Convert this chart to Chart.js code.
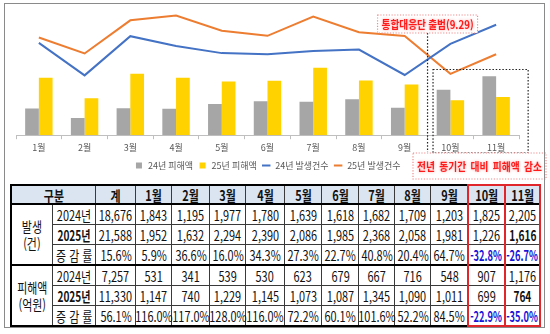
<!DOCTYPE html>
<html lang="ko">
<head>
<meta charset="utf-8">
<script src="https://cdn.jsdelivr.net/npm/chart.js@4/dist/chart.umd.min.js"></script>
<style>
  html, body { margin: 0; padding: 0; background: #fff; }
  #wrap { position: relative; width: 550px; height: 334px; overflow: hidden; background: #fff; }
  #c { position: absolute; left: 0; top: 0; }
  #frame { position: absolute; left: 4px; top: 3px; width: 539px; height: 323px; border: 1.5px solid #8a8a8a; pointer-events: none; }
  #tbl { position: absolute; left: 10px; top: 184px; width: 530px; border-collapse: collapse; table-layout: fixed;
         border: 2px solid #000; font-family: "Noto Sans CJK KR", "Noto Sans", sans-serif; font-size: 14px; color: #111; }
  #tbl td, #tbl th { border: 1px solid #3a3a3a; padding: 0; text-align: center; white-space: nowrap; overflow: visible; line-height: 16px; }
  #tbl th { background: #dbe5f1; font-weight: bold; border-bottom: 2px solid #000; height: 17px; }
  #tbl tr.r td { height: 19px; }
  #tbl tr.sep td { border-top: 2px solid #000; }
  #tbl .c { display: flex; justify-content: center; }
  #tbl .s { display: inline-block; transform: scaleX(0.78); transform-origin: center; white-space: nowrap; }
  #tbl .b { font-weight: bold; }
  #tbl .b .s { transform: scaleX(0.72); }
  #tbl .neg { color: #1414d8; font-weight: bold; }
  #tbl .neg .s { transform: scaleX(0.66); }
  #tbl .grp { line-height: 17px; }
  #redbox { position: absolute; border: 2px solid #e0262b; pointer-events: none; box-sizing: border-box; }
  #redmid { position: absolute; width: 2px; background: #e0262b; pointer-events: none; }
</style>
</head>
<body>
<div id="wrap">
  <canvas id="c" width="550" height="182"></canvas>
  <table id="tbl"></table>
  <div id="redbox"></div>
  <div id="redmid"></div>
  <div id="frame"></div>
</div>
<script>
// Monthly figures, January to November
const months = ['1월', '2월', '3월', '4월', '5월', '6월', '7월', '8월', '9월', '10월', '11월'];
const damage2024 = [531, 341, 539, 530, 623, 679, 667, 716, 548, 907, 1176];     // 피해액(억원)
const damage2025 = [1147, 740, 1229, 1145, 1073, 1087, 1345, 1090, 1011, 699, 764];
const cases2024 = [1843, 1195, 1977, 1780, 1639, 1618, 1682, 1709, 1203, 1825, 2205]; // 발생건수
const cases2025 = [1952, 1632, 2294, 2390, 2086, 1985, 2368, 2058, 1981, 1226, 1616];

// Table totals and change rates (%), first entry is the total column
const caseTotals = [18676, 21588];
const damageTotals = [7257, 11330];
const caseRates = [15.6, 5.9, 36.6, 16.0, 34.3, 27.3, 22.7, 40.8, 20.4, 64.7, -32.8, -26.7];
const damageRates = [56.1, 116.0, 117.0, 128.0, 116.0, 72.2, 60.1, 101.6, 52.2, 84.5, -22.9, -35.0];

const seriesNames = ['24년 피해액', '25년 피해액', '24년 발생건수', '25년 발생건수'];
const headerLabels = ['구분', '계'];

const FONT = '"Noto Sans CJK KR", "Noto Sans", sans-serif';

// ---------- chart ----------
function fitText(ctx, text, cx, cy, width) {
  const w = ctx.measureText(text).width;
  ctx.save();
  ctx.translate(cx, cy);
  ctx.scale(width / w, 1);
  ctx.fillText(text, 0, 0);
  ctx.restore();
}

const callouts = {
  id: 'callouts',
  afterDraw(chart) {
    const ctx = chart.ctx;
    const xs = chart.scales.x;
    const p9 = xs.getPixelForValue(8), p10 = xs.getPixelForValue(9), p11 = xs.getPixelForValue(10);
    const step = p10 - p9;
    const launchX = (p9 + p10) / 2;

    ctx.save();
    // launch marker between Sep and Oct
    ctx.strokeStyle = '#222';
    ctx.lineWidth = 1.2;
    ctx.setLineDash([1.5, 1.8]);
    ctx.beginPath();
    ctx.moveTo(launchX, 33);
    ctx.lineTo(launchX, 152);
    ctx.stroke();

    // dotted frame round Oct / Nov
    const rl = p10 - step * 0.38, rr = p11 + step * 0.7;
    ctx.strokeRect(rl, 69.5, rr - rl, 83.5);

    // top note
    ctx.setLineDash([1.2, 1.6]);
    ctx.strokeStyle = '#f08c8c';
    ctx.fillStyle = '#fff';
    ctx.fillRect(launchX - 50, 15, 100, 18);
    ctx.strokeRect(launchX - 50, 15, 100, 18);
    ctx.fillStyle = '#ff1a1a';
    ctx.shadowColor = 'rgba(255,120,120,0.7)';
    ctx.shadowBlur = 3;
    ctx.font = 'bold 11px ' + FONT;
    ctx.textAlign = 'center';
    ctx.textBaseline = 'middle';
    fitText(ctx, '통합대응단 출범(9.29)', launchX, 24.5, 92);

    // bottom note
    ctx.shadowBlur = 0;
    ctx.fillStyle = '#fff';
    ctx.fillRect(413, 153, 133, 26);
    ctx.strokeRect(413, 153, 133, 26);
    ctx.fillStyle = '#ff1a1a';
    ctx.shadowColor = 'rgba(255,120,120,0.7)';
    ctx.shadowBlur = 3;
    ctx.font = 'bold 11px ' + FONT;
    fitText(ctx, '전년  동기간  대비  피해액  감소', 479.5, 166.5, 125);
    ctx.restore();
  }
};

new Chart(document.getElementById('c'), {
  type: 'bar',
  data: {
    labels: months,
    datasets: [
      { type: 'bar', label: seriesNames[0], data: damage2024, backgroundColor: '#a6a6a6', order: 2,
        categoryPercentage: 0.6, barPercentage: 1.0, pointStyle: 'rect' },
      { type: 'bar', label: seriesNames[1], data: damage2025, backgroundColor: '#ffd200', order: 2,
        categoryPercentage: 0.6, barPercentage: 1.0, pointStyle: 'rect' },
      { type: 'line', label: seriesNames[2], data: cases2024, borderColor: '#4472c4', backgroundColor: '#4472c4',
        borderWidth: 2, pointRadius: 0, tension: 0, order: 1, pointStyle: 'line' },
      { type: 'line', label: seriesNames[3], data: cases2025, borderColor: '#ed7d31', backgroundColor: '#ed7d31',
        borderWidth: 2, pointRadius: 0, tension: 0, order: 1, pointStyle: 'line' }
    ]
  },
  options: {
    responsive: false,
    animation: false,
    devicePixelRatio: 1,
    layout: { padding: { left: 16, right: 31, top: 5, bottom: 2 } },
    scales: {
      x: {
        offset: true,
        grid: { display: true, drawOnChartArea: false, offset: true, tickLength: 4, color: '#bfbfbf' },
        border: { color: '#bfbfbf' },
        ticks: { font: { size: 9, family: FONT }, color: '#595959', padding: 3 }
      },
      y: { display: false, min: 0, max: 2600 }
    },
    plugins: {
      legend: {
        position: 'bottom',
        labels: { usePointStyle: true, boxWidth: 9, boxHeight: 6, padding: 5,
                  font: { size: 9, family: FONT }, color: '#595959',
                  sort: (a, b) => a.datasetIndex - b.datasetIndex }
      },
      tooltip: { enabled: false }
    }
  },
  plugins: [callouts]
});

// ---------- table ----------
const fmt = n => n.toLocaleString('en-US');
const pct = r => r.toFixed(1) + '%';
const inner = txt => `<div class="c"><span class="s">${txt}</span></div>`;
const cell = (txt, cls) => `<td${cls ? ` class="${cls}"` : ''}>${inner(txt)}</td>`;

function groupRows(title, totals, v24, v25, rates) {
  let h = `<tr class="r${title.sep ? ' sep' : ''}"><td rowspan="3" class="grp">${inner(title.a + '<br>' + title.b)}</td>`;
  h += cell('2024년') + cell(fmt(totals[0])) + v24.map(v => cell(fmt(v))).join('') + '</tr>';
  h += `<tr class="r">` + cell('2025년', 'b') + cell(fmt(totals[1]));
  h += v25.map((v, i) => cell(fmt(v), i === v25.length - 1 ? 'b' : '')).join('') + '</tr>';
  h += `<tr class="r">` + cell('증 감 률') + rates.map(r => cell(pct(r), r < 0 ? 'neg' : '')).join('') + '</tr>';
  return h;
}

const colW = [41.7, 42.6, 40.7, 36, 37.3, 36.7, 38.3, 37.7, 36.7, 36, 36.3, 36.7, 37.6, 35];
let html = '<colgroup>' + colW.map(w => `<col style="width:${w}px">`).join('') + '</colgroup>';
html += `<tr><th colspan="2">${inner(headerLabels[0])}</th><th>${inner(headerLabels[1])}</th>`;
html += months.map(m => `<th>${inner(m)}</th>`).join('') + '</tr>';
html += groupRows({ a: '발생', b: '(건)' }, caseTotals, cases2024, cases2025, caseRates);
html += groupRows({ a: '피해액', b: '(억원)', sep: true }, damageTotals, damage2024, damage2025, damageRates);
const tbl = document.getElementById('tbl');
tbl.innerHTML = html;

// red outline round the Oct / Nov columns
const wrapRect = document.getElementById('wrap').getBoundingClientRect();
const headCells = tbl.rows[0].cells;
const oct = headCells[headCells.length - 2].getBoundingClientRect();
const nov = headCells[headCells.length - 1].getBoundingClientRect();
const tRect = tbl.getBoundingClientRect();
const rb = document.getElementById('redbox');
rb.style.left = (oct.left - wrapRect.left - 1) + 'px';
rb.style.top = (tRect.top - wrapRect.top) + 'px';
rb.style.width = (nov.right - oct.left + 2) + 'px';
rb.style.height = tRect.height + 'px';
const rm = document.getElementById('redmid');
rm.style.left = (nov.left - wrapRect.left - 1) + 'px';
rm.style.top = (tRect.top - wrapRect.top) + 'px';
rm.style.height = tRect.height + 'px';
</script>
</body>
</html>
